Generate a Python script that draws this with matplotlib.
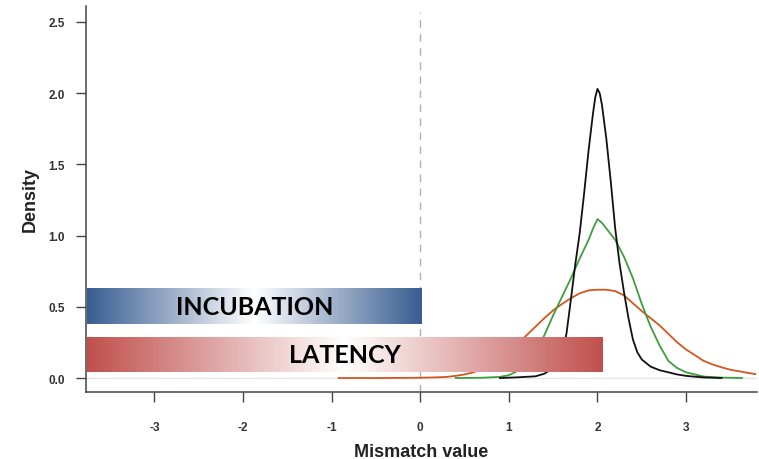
import numpy as np
import matplotlib
matplotlib.use("Agg")
import matplotlib.pyplot as plt
from matplotlib.colors import to_rgb

# density curves (x = mismatch value, d = density)
black_x = [0.9, 1.1, 1.3, 1.4, 1.5, 1.55, 1.6, 1.65, 1.7, 1.75, 1.8, 1.85, 1.9, 1.95, 1.975, 2.0,
           2.025, 2.05, 2.1, 2.15, 2.2, 2.25, 2.3, 2.35, 2.4, 2.45, 2.5, 2.6, 2.7, 2.8, 2.9, 3.0, 3.2, 3.4]
black_d = [0.0, 0.005, 0.012, 0.03, 0.07, 0.11, 0.17, 0.31, 0.55, 0.80, 1.02, 1.30, 1.60, 1.86, 1.97, 2.03,
           2.00, 1.92, 1.68, 1.38, 1.05, 0.80, 0.60, 0.42, 0.27, 0.18, 0.13, 0.08, 0.055, 0.04, 0.025, 0.015, 0.004, 0.0]

green_x = [0.4, 0.7, 0.9, 1.0, 1.1, 1.2, 1.3, 1.4, 1.5, 1.6, 1.7, 1.8, 1.9, 1.95, 2.0,
           2.05, 2.1, 2.2, 2.3, 2.4, 2.5, 2.6, 2.7, 2.8, 2.9, 3.0, 3.2, 3.4, 3.63]
green_d = [0.0, 0.002, 0.008, 0.02, 0.05, 0.10, 0.17, 0.30, 0.44, 0.57, 0.70, 0.84, 0.97, 1.05, 1.115,
           1.09, 1.05, 0.97, 0.85, 0.70, 0.52, 0.36, 0.23, 0.12, 0.07, 0.04, 0.01, 0.003, 0.0]

orange_x = [-0.92, -0.5, 0.0, 0.2, 0.3, 0.4, 0.5, 0.6, 0.7, 0.8, 0.9, 1.0, 1.1, 1.2, 1.3, 1.4, 1.5,
            1.6, 1.7, 1.8, 1.9, 2.0, 2.1, 2.2, 2.3, 2.4, 2.5, 2.6, 2.7, 2.8, 2.9, 3.0, 3.1, 3.2,
            3.3, 3.4, 3.5, 3.6, 3.7, 3.78]
orange_d = [0.0, 0.0, 0.002, 0.005, 0.008, 0.015, 0.025, 0.04, 0.065, 0.10, 0.14, 0.19, 0.24, 0.30, 0.36,
            0.42, 0.475, 0.52, 0.56, 0.595, 0.615, 0.62, 0.62, 0.61, 0.58, 0.525, 0.47, 0.42, 0.37,
            0.31, 0.25, 0.20, 0.16, 0.12, 0.095, 0.075, 0.058, 0.047, 0.036, 0.028]

# gradient bars: label, x span, y span
bar_labels = ["INCUBATION", "LATENCY"]
bar_x = [(-3.755, 0.02), (-3.755, 2.06)]
bar_y = [(0.376, 0.626), (0.042, 0.2875)]
bar_colors = ["#385D91", "#C0504D"]

x_ticks = [-3, -2, -1, 0, 1, 2, 3]
y_ticks = [0.0, 0.5, 1.0, 1.5, 2.0, 2.5]

plt.rcParams["font.family"] = ["Liberation Sans", "DejaVu Sans"]
plt.rcParams["font.weight"] = "bold"

fig = plt.figure(figsize=(7.59, 4.60), dpi=100)
ax = fig.add_axes([0.1133, 0.1457, 0.8841, 0.8391])

ax.set_xlim(-3.77, 3.80)
ax.set_ylim(-0.098, 2.612)

ax.axhline(0, color="#e6e6e6", lw=1.0, zorder=1)
ax.axvline(0, ymax=0.985, color="#b0b0b0", lw=1.0, ls=(0, (5.4, 4.7)), zorder=1)

ax.plot(orange_x, orange_d, color="#D2561F", lw=1.3, zorder=2)
ax.plot(green_x, green_d, color="#3E9E3E", lw=1.3, zorder=3)
ax.plot(black_x, black_d, color="#111111", lw=1.3, zorder=4)

# edge colour -> white at the middle -> edge colour
t = np.linspace(0, 1, 400)
w = np.abs(2 * t - 1)
for label, (x0, x1), (y0, y1), c in zip(bar_labels, bar_x, bar_y, bar_colors):
    rgb = np.array(to_rgb(c))
    img = (1 - w)[:, None] * np.ones(3) + w[:, None] * rgb
    ax.imshow(img[None, :, :], extent=(x0, x1, y0, y1), aspect="auto",
              interpolation="bilinear", zorder=5)
    ax.text((x0 + x1) / 2, (y0 + y1) / 2, label, ha="center", va="center",
            fontsize=18, fontweight="bold", family=["Lato", "DejaVu Sans"],
            color="black", zorder=6)

ax.set_xlim(-3.77, 3.80)
ax.set_ylim(-0.098, 2.612)

for s in ["top", "right"]:
    ax.spines[s].set_visible(False)
for s in ["left", "bottom"]:
    ax.spines[s].set_color("#444444")
    ax.spines[s].set_linewidth(1.1)

ax.set_xticks(x_ticks)
ax.set_xticklabels([str(v) for v in x_ticks])
ax.set_yticks(y_ticks)
ax.set_yticklabels([f"{v:.1f}" for v in y_ticks])
ax.tick_params(axis="x", length=7, width=1, color="#444444", pad=14,
               labelsize=8.5, labelcolor="#333333")
ax.tick_params(axis="y", length=7, width=1, color="#444444", pad=8,
               labelsize=8.5, labelcolor="#333333")

ax.set_xlabel("Mismatch value", fontsize=13, fontweight="bold", color="#222222", labelpad=7)
ax.set_ylabel("Density", fontsize=13, fontweight="bold", color="#222222", labelpad=7)

fig.savefig("out.png", dpi=100)
